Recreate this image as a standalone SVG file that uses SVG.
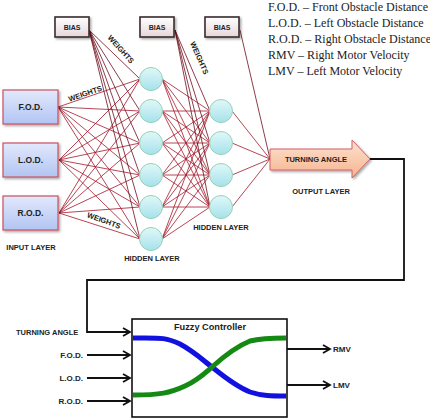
<svg xmlns="http://www.w3.org/2000/svg" width="430" height="419" viewBox="0 0 430 419">
<defs>
<linearGradient id="gIn" x1="0" y1="0" x2="0" y2="1"><stop offset="0" stop-color="#e2e9fc"/><stop offset="1" stop-color="#b2c4f2"/></linearGradient>
<linearGradient id="gBias" x1="0" y1="0" x2="0" y2="1"><stop offset="0" stop-color="#ffffff"/><stop offset="1" stop-color="#e6d6da"/></linearGradient>
<linearGradient id="gNode" x1="0" y1="0" x2="0" y2="1"><stop offset="0" stop-color="#e0f8fa"/><stop offset="1" stop-color="#a6e2ea"/></linearGradient>
<linearGradient id="gOut" x1="0" y1="0" x2="0" y2="1"><stop offset="0" stop-color="#fde2d0"/><stop offset="1" stop-color="#f6b48e"/></linearGradient>
<filter id="sh" x="-20%" y="-20%" width="150%" height="160%"><feDropShadow dx="1.5" dy="1.5" stdDeviation="1" flood-color="#000" flood-opacity="0.35"/></filter>
<marker id="ar" markerWidth="10" markerHeight="10" refX="8" refY="5" orient="auto" markerUnits="userSpaceOnUse"><path d="M1,1 L8,5 L1,9" fill="none" stroke="#111" stroke-width="1.8"/></marker>
</defs>
<style>
.lbl{font-family:"Liberation Sans",Arial,sans-serif;font-weight:bold;fill:#222;}
.leg{font-family:"Liberation Serif","DejaVu Serif",serif;font-size:12px;fill:#222;}
.in{fill:url(#gIn);stroke:#c85060;stroke-width:1.2;}
.bias{fill:url(#gBias);stroke:#3a2c2e;stroke-width:1.6;}
.node{fill:url(#gNode);stroke:#9ccfb4;stroke-width:1;}
.w{stroke:#a3162a;stroke-width:0.8;fill:none;}
.wb{stroke:#6e0c1c;stroke-width:0.8;fill:none;}
.c{stroke:#111;stroke-width:1.8;fill:none;}
</style>

<!-- legend -->
<g id="legend">
<text class="leg" x="268" y="11">F.O.D. – Front Obstacle Distance</text>
<text class="leg" x="268" y="27">L.O.D. – Left Obstacle Distance</text>
<text class="leg" x="268" y="43">R.O.D. – Right Obstacle Distance</text>
<text class="leg" x="268" y="59">RMV – Right Motor Velocity</text>
<text class="leg" x="268" y="75">LMV – Left Motor Velocity</text>
</g>

<!-- connectors -->
<g id="connectors">
<!-- inputs to hidden 1 -->
<path class="w" d="M58,107 L140,79 M58,107 L140,111 M58,107 L140,143 M58,107 L140,175 M58,107 L140,207 M58,107 L140,239
M59,160 L140,79 M59,160 L140,111 M59,160 L140,143 M59,160 L140,175 M59,160 L140,207 M59,160 L140,239
M59,213 L140,79 M59,213 L140,111 M59,213 L140,143 M59,213 L140,175 M59,213 L140,207 M59,213 L140,239"/>
<!-- bias1 to hidden1 -->
<path class="wb" d="M89,30 L140,79 M89,30 L140,111 M89,30 L140,143 M89,30 L140,175 M89,30 L140,207 M89,30 L140,239"/>
<!-- hidden1 to hidden2 -->
<path class="w" d="M162,79 L210,111 M162,79 L210,143 M162,79 L210,175 M162,79 L210,207
M162,111 L210,111 M162,111 L210,143 M162,111 L210,175 M162,111 L210,207
M162,143 L210,111 M162,143 L210,143 M162,143 L210,175 M162,143 L210,207
M162,175 L210,111 M162,175 L210,143 M162,175 L210,175 M162,175 L210,207
M162,207 L210,111 M162,207 L210,143 M162,207 L210,175 M162,207 L210,207
M162,239 L210,111 M162,239 L210,143 M162,239 L210,175 M162,239 L210,207"/>
<!-- bias2 to hidden2 -->
<path class="wb" d="M175,30 L210,111 M175,30 L210,143 M175,30 L210,175 M175,30 L210,207"/>
<!-- hidden2 to output -->
<path class="w" d="M232,111 L270,159 M232,143 L270,159 M232,175 L270,159 M232,207 L270,159"/>
<path class="wb" d="M240,30 L270,159"/>
<!-- feedback -->
<polyline class="c" points="370,159 404,159 404,280 87,280 87,332 130,332" marker-end="url(#ar)"/>
<line class="c" x1="87" y1="355" x2="130" y2="355" marker-end="url(#ar)"/>
<line class="c" x1="87" y1="378" x2="130" y2="378" marker-end="url(#ar)"/>
<line class="c" x1="87" y1="401" x2="130" y2="401" marker-end="url(#ar)"/>
<line class="c" x1="287" y1="349" x2="330" y2="349" marker-end="url(#ar)"/>
<line class="c" x1="287" y1="385" x2="330" y2="385" marker-end="url(#ar)"/>
</g>

<!-- weights labels -->
<g id="weights">
<text class="lbl" font-size="7.5" transform="translate(119,51) rotate(48)" text-anchor="middle">WEIGHTS</text>
<text class="lbl" font-size="7.5" transform="translate(86,96) rotate(-19)" text-anchor="middle">WEIGHTS</text>
<text class="lbl" font-size="7.5" transform="translate(103,223) rotate(20)" text-anchor="middle">WEIGHTS</text>
<text class="lbl" font-size="7.5" transform="translate(197,59) rotate(66)" text-anchor="middle">WEIGHTS</text>
</g>

<!-- input nodes -->
<g id="in-fod"><rect class="in" x="3" y="90" width="55" height="34" filter="url(#sh)"/><text class="lbl" font-size="8.5" x="30.5" y="110" text-anchor="middle">F.O.D.</text></g>
<g id="in-lod"><rect class="in" x="3" y="143" width="55" height="34" filter="url(#sh)"/><text class="lbl" font-size="8.5" x="30.5" y="163" text-anchor="middle">L.O.D.</text></g>
<g id="in-rod"><rect class="in" x="3" y="196" width="55" height="34" filter="url(#sh)"/><text class="lbl" font-size="8.5" x="30.5" y="216" text-anchor="middle">R.O.D.</text></g>
<text class="lbl" font-size="7.5" x="31" y="250" text-anchor="middle">INPUT LAYER</text>

<!-- bias nodes -->
<g id="bias1"><rect class="bias" x="55" y="17" width="34" height="20" filter="url(#sh)"/><text class="lbl" font-size="7" x="72" y="30" text-anchor="middle">BIAS</text></g>
<g id="bias2"><rect class="bias" x="140" y="17" width="34" height="20" filter="url(#sh)"/><text class="lbl" font-size="7" x="157" y="30" text-anchor="middle">BIAS</text></g>
<g id="bias3"><rect class="bias" x="205" y="17" width="34" height="20" filter="url(#sh)"/><text class="lbl" font-size="7" x="222" y="30" text-anchor="middle">BIAS</text></g>

<!-- hidden layer 1 -->
<g id="h1-1"><ellipse class="node" cx="151" cy="79" rx="11.5" ry="11.5"/></g>
<g id="h1-2"><ellipse class="node" cx="151" cy="111" rx="11.5" ry="11.5"/></g>
<g id="h1-3"><ellipse class="node" cx="151" cy="143" rx="11.5" ry="11.5"/></g>
<g id="h1-4"><ellipse class="node" cx="151" cy="175" rx="11.5" ry="11.5"/></g>
<g id="h1-5"><ellipse class="node" cx="151" cy="207" rx="11.5" ry="11.5"/></g>
<g id="h1-6"><ellipse class="node" cx="151" cy="239" rx="11.5" ry="11.5"/></g>
<text class="lbl" font-size="7.5" x="152" y="261" text-anchor="middle">HIDDEN LAYER</text>

<!-- hidden layer 2 -->
<g id="h2-1"><ellipse class="node" cx="221" cy="111" rx="11.5" ry="11.5"/></g>
<g id="h2-2"><ellipse class="node" cx="221" cy="143" rx="11.5" ry="11.5"/></g>
<g id="h2-3"><ellipse class="node" cx="221" cy="175" rx="11.5" ry="11.5"/></g>
<g id="h2-4"><ellipse class="node" cx="221" cy="207" rx="11.5" ry="11.5"/></g>
<text class="lbl" font-size="7.5" x="221" y="230" text-anchor="middle">HIDDEN LAYER</text>

<!-- output -->
<g id="output"><path d="M270,149 L352,149 L352,140 L370,159 L352,178 L352,170 L270,170 Z" fill="url(#gOut)" stroke="#d0606a" stroke-width="1" filter="url(#sh)"/><text class="lbl" font-size="7.5" x="316" y="162" text-anchor="middle">TURNING ANGLE</text></g>
<text class="lbl" font-size="7.5" x="321" y="194" text-anchor="middle">OUTPUT LAYER</text>

<!-- fuzzy controller -->
<g id="fuzzy">
<rect x="132" y="319" width="155" height="98" fill="#fff" stroke="#111" stroke-width="1.6"/>
<path d="M133,338 C160,338 165,337 180,344 C195,352 205,362 212,367 C222,375 235,386 250,392 C262,396 272,396 286,396" fill="none" stroke="#1212e0" stroke-width="5"/>
<path d="M133,395 C160,395 170,393 185,386 C198,380 205,373 212,367 C222,358 235,347 250,341 C262,338 272,338 286,338" fill="none" stroke="#148a14" stroke-width="5"/>
<text class="lbl" font-size="9.2" x="210" y="330" text-anchor="middle">Fuzzy Controller</text>
</g>

<g id="fuzzy-labels">
<text class="lbl" font-size="7.5" x="16" y="335">TURNING ANGLE</text>
<text class="lbl" font-size="8" x="83" y="358" text-anchor="end">F.O.D.</text>
<text class="lbl" font-size="8" x="83" y="381" text-anchor="end">L.O.D.</text>
<text class="lbl" font-size="8" x="83" y="404" text-anchor="end">R.O.D.</text>
<text class="lbl" font-size="8" x="333" y="352">RMV</text>
<text class="lbl" font-size="8" x="333" y="388">LMV</text>
</g>
</svg>
